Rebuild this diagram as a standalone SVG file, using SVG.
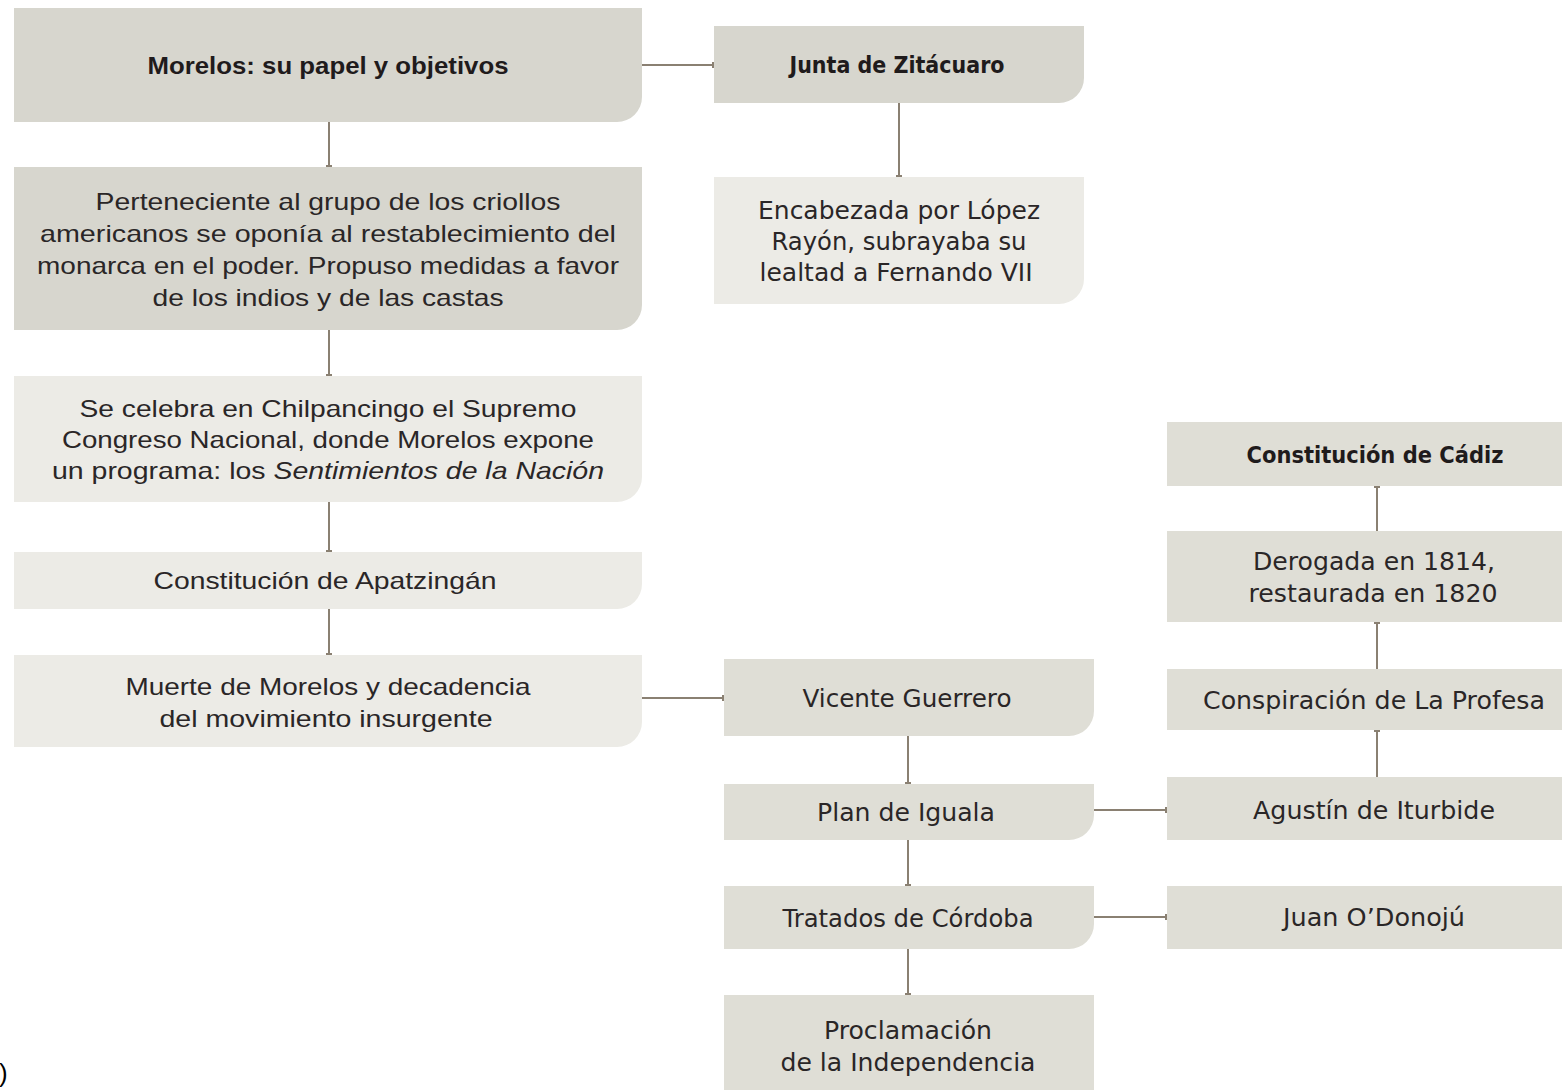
<svg xmlns="http://www.w3.org/2000/svg" width="1562" height="1090" viewBox="0 0 1562 1090">
<defs>
<marker id="tick" markerWidth="4" markerHeight="10" refX="2" refY="5" orient="auto" markerUnits="userSpaceOnUse">
<line x1="2" y1="2" x2="2" y2="8" stroke="#8a8072" stroke-width="2"/>
</marker>
<style>
.dk{fill:#d7d6ce}
.md{fill:#dfded6}
.lt{fill:#ecebe6}
.c{stroke:#8a8072;stroke-width:2;fill:none;marker-end:url(#tick)}
.n{font-family:"Liberation Sans",Arial,sans-serif;font-size:24px;fill:#2a2627;text-anchor:middle}
.nb{font-family:"Liberation Sans",Arial,sans-serif;font-size:24px;font-weight:bold;fill:#1f1b1c;text-anchor:middle}
.w{font-family:"DejaVu Sans",Verdana,sans-serif;font-size:24px;fill:#2a2627;text-anchor:middle}
.wb{font-family:"DejaVu Sans",Verdana,sans-serif;font-size:23px;font-weight:bold;fill:#1f1b1c;text-anchor:middle}
</style>
</defs>
<rect width="1562" height="1090" fill="#ffffff"/>
<g id="connectors">
<path class="c" d="M329 122V166"/>
<path class="c" d="M329 330V375"/>
<path class="c" d="M329 502V551"/>
<path class="c" d="M329 609V654"/>
<path class="c" d="M642 65H713"/>
<path class="c" d="M899 103V176"/>
<path class="c" d="M642 698H723"/>
<path class="c" d="M908 736V783"/>
<path class="c" d="M908 840V885"/>
<path class="c" d="M908 949V994"/>
<path class="c" d="M1094 810H1166"/>
<path class="c" d="M1094 917H1166"/>
<path class="c" d="M1377 531V487"/>
<path class="c" d="M1377 669V623"/>
<path class="c" d="M1377 777V731"/>
</g>
<g id="n-morelos">
<path class="dk" d="M14 8H642V97A25 25 0 0 1 617 122H14Z"/>
<text class="nb" x="328" y="74" textLength="361" lengthAdjust="spacingAndGlyphs">Morelos: su papel y objetivos</text>
</g>
<g id="n-perteneciente">
<path class="dk" d="M14 167H642V305A25 25 0 0 1 617 330H14Z"/>
<text class="n" x="328" y="210" textLength="465" lengthAdjust="spacingAndGlyphs">Perteneciente al grupo de los criollos</text>
<text class="n" x="328" y="242" textLength="576" lengthAdjust="spacingAndGlyphs">americanos se oponía al restablecimiento del</text>
<text class="n" x="328" y="274" textLength="582" lengthAdjust="spacingAndGlyphs">monarca en el poder. Propuso medidas a favor</text>
<text class="n" x="328" y="306" textLength="351" lengthAdjust="spacingAndGlyphs">de los indios y de las castas</text>
</g>
<g id="n-congreso">
<path class="lt" d="M14 376H642V477A25 25 0 0 1 617 502H14Z"/>
<text class="n" x="328" y="417" textLength="497" lengthAdjust="spacingAndGlyphs">Se celebra en Chilpancingo el Supremo</text>
<text class="n" x="328" y="448" textLength="532" lengthAdjust="spacingAndGlyphs">Congreso Nacional, donde Morelos expone</text>
<text class="n" x="328" y="479" textLength="552" lengthAdjust="spacingAndGlyphs">un programa: los <tspan font-style="italic">Sentimientos de la Nación</tspan></text>
</g>
<g id="n-apatzingan">
<path class="lt" d="M14 552H642V584A25 25 0 0 1 617 609H14Z"/>
<text class="n" x="325" y="589" textLength="343" lengthAdjust="spacingAndGlyphs">Constitución de Apatzingán</text>
</g>
<g id="n-muerte">
<path class="lt" d="M14 655H642V722A25 25 0 0 1 617 747H14Z"/>
<text class="n" x="328" y="695" textLength="405" lengthAdjust="spacingAndGlyphs">Muerte de Morelos y decadencia</text>
<text class="n" x="326" y="727" textLength="333" lengthAdjust="spacingAndGlyphs">del movimiento insurgente</text>
</g>
<g id="n-junta">
<path class="dk" d="M714 26H1084V78A25 25 0 0 1 1059 103H714Z"/>
<text class="wb" x="897" y="73" textLength="215" lengthAdjust="spacingAndGlyphs">Junta de Zitácuaro</text>
</g>
<g id="n-encabezada">
<path class="lt" d="M714 177H1084V279A25 25 0 0 1 1059 304H714Z"/>
<text class="w" x="899" y="219" textLength="282" lengthAdjust="spacingAndGlyphs">Encabezada por López</text>
<text class="w" x="899" y="250" textLength="255" lengthAdjust="spacingAndGlyphs">Rayón, subrayaba su</text>
<text class="w" x="896" y="281" textLength="273" lengthAdjust="spacingAndGlyphs">lealtad a Fernando VII</text>
</g>
<g id="n-guerrero">
<path class="md" d="M724 659H1094V711A25 25 0 0 1 1069 736H724Z"/>
<text class="w" x="907" y="707" textLength="209" lengthAdjust="spacingAndGlyphs">Vicente Guerrero</text>
</g>
<g id="n-iguala">
<path class="md" d="M724 784H1094V815A25 25 0 0 1 1069 840H724Z"/>
<text class="w" x="906" y="821" textLength="178" lengthAdjust="spacingAndGlyphs">Plan de Iguala</text>
</g>
<g id="n-cordoba">
<path class="md" d="M724 886H1094V924A25 25 0 0 1 1069 949H724Z"/>
<text class="w" x="908" y="927" textLength="251" lengthAdjust="spacingAndGlyphs">Tratados de Córdoba</text>
</g>
<g id="n-proclamacion">
<path class="md" d="M724 995H1094V1090H724Z"/>
<text class="w" x="908" y="1039" textLength="168" lengthAdjust="spacingAndGlyphs">Proclamación</text>
<text class="w" x="908" y="1071" textLength="255" lengthAdjust="spacingAndGlyphs">de la Independencia</text>
</g>
<g id="n-cadiz">
<rect class="md" x="1167" y="422" width="395" height="64"/>
<text class="wb" x="1375" y="463" textLength="257" lengthAdjust="spacingAndGlyphs">Constitución de Cádiz</text>
</g>
<g id="n-derogada">
<rect class="md" x="1167" y="531" width="395" height="91"/>
<text class="w" x="1374" y="570" textLength="242" lengthAdjust="spacingAndGlyphs">Derogada en 1814,</text>
<text class="w" x="1373" y="602" textLength="249" lengthAdjust="spacingAndGlyphs">restaurada en 1820</text>
</g>
<g id="n-profesa">
<rect class="md" x="1167" y="669" width="395" height="61"/>
<text class="w" x="1374" y="709" textLength="342" lengthAdjust="spacingAndGlyphs">Conspiración de La Profesa</text>
</g>
<g id="n-iturbide">
<rect class="md" x="1167" y="777" width="395" height="63"/>
<text class="w" x="1374" y="819" textLength="242" lengthAdjust="spacingAndGlyphs">Agustín de Iturbide</text>
</g>
<g id="n-odonoju">
<rect class="md" x="1167" y="886" width="395" height="63"/>
<text class="w" x="1374" y="926" textLength="182" lengthAdjust="spacingAndGlyphs">Juan O’Donojú</text>
</g>
<text x="-1" y="1082" font-family="Liberation Sans, Arial, sans-serif" font-size="26" fill="#000">)</text>
</svg>
